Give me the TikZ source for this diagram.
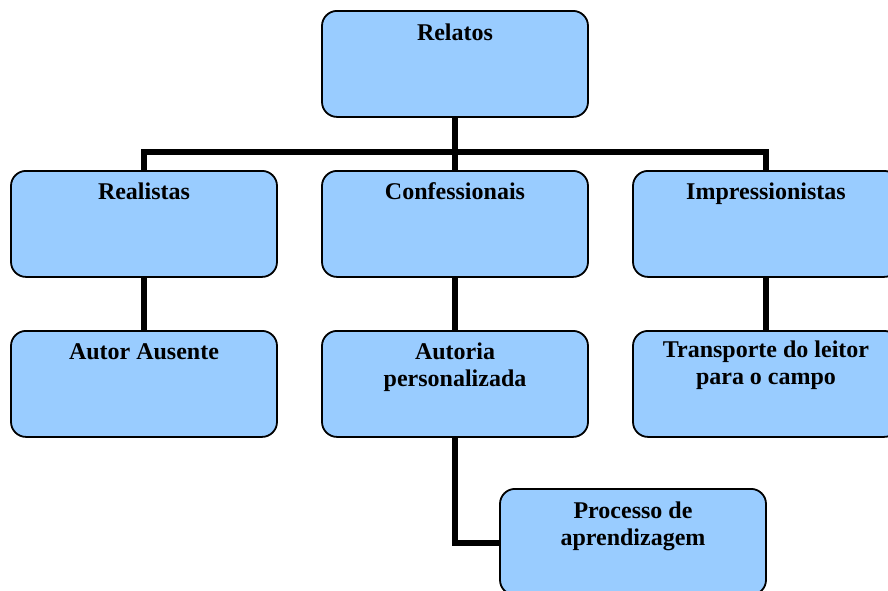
\documentclass[tikz,border=0pt]{standalone}
\usepackage{fontspec}
\setmainfont{Liberation Serif}
\definecolor{boxblue}{HTML}{99CCFF}
\tikzset{
  box/.style={draw=black, line width=1.8pt, fill=boxblue, rounded corners=15pt,
    minimum width=266pt, minimum height=106pt, inner sep=0pt, anchor=north},
  lbl/.style={font=\bfseries\fontsize{24}{26.5}\selectfont, align=center, anchor=base, inner sep=0pt},
  conn/.style={draw=black, line width=5.5pt, line join=miter}
}
\begin{document}
\begin{tikzpicture}[x=1pt,y=-1pt]
\useasboundingbox (0,0) rectangle (888,590);
\clip (0,0) rectangle (888,590);
\coordinate (hl) at (144,152);
\coordinate (hr) at (766,152);
\coordinate (hm) at (455,152);
\coordinate (bend) at (455,543);
% boxes
\node[box] (relatos) at (455,10) {};
\node[box] (realistas) at (144,170) {};
\node[box] (confess) at (455,170) {};
\node[box] (impress) at (766,170) {};
\node[box] (autor) at (144,330) {};
\node[box] (autoria) at (455,330) {};
\node[box] (transp) at (766,330) {};
\node[box] (processo) at (633,488) {};
% connectors
\draw[conn] (relatos.south) -- (hm);
\draw[conn] (realistas.north) -- (hl) -- (hr) -- (impress.north);
\draw[conn] (hm) -- (confess.north);
\draw[conn] (realistas.south) -- (autor.north);
\draw[conn] (confess.south) -- (autoria.north);
\draw[conn] (impress.south) -- (transp.north);
\draw[conn] (autoria.south) -- (bend) -- (processo.west |- bend);
% labels
\node[lbl] at ([yshift=-30pt]relatos.north) {Relatos};
\node[lbl] at ([yshift=-29pt]realistas.north) {Realistas};
\node[lbl] at ([yshift=-29pt]confess.north) {Confessionais};
\node[lbl] at ([yshift=-29pt]impress.north) {Impressionistas};
\node[lbl] at ([yshift=-29pt]autor.north) {Autor Ausente};
\node[lbl] at ([yshift=-56pt]autoria.north) {Autoria\\personalizada};
\node[lbl] at ([yshift=-54pt]transp.north) {Transporte do leitor\\para o campo};
\node[lbl] at ([yshift=-57pt]processo.north) {Processo de\\aprendizagem};
\end{tikzpicture}
\end{document}
